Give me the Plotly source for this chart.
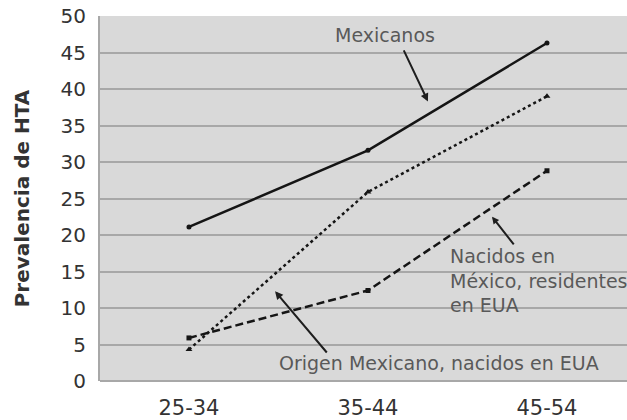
import plotly.graph_objects as go

categories = ["25-34", "35-44", "45-54"]
mexicanos = [21.1, 31.6, 46.3]
nacidos_mexico = [4.3, 25.9, 39.0]
origen_mexicano = [5.9, 12.4, 28.8]
y_ticks = [0, 5, 10, 15, 20, 25, 30, 35, 40, 45, 50]

FONT = "DejaVu Sans"
fig = go.Figure()

fig.add_trace(go.Scatter(x=categories, y=mexicanos, mode="lines+markers",
                         line=dict(color="#151515", width=2.5),
                         marker=dict(symbol="circle", size=5, color="#151515"),
                         name="Mexicanos"))
fig.add_trace(go.Scatter(x=categories, y=nacidos_mexico, mode="lines+markers",
                         line=dict(color="#151515", width=2.5, dash="dot"),
                         marker=dict(symbol="triangle-up", size=6, color="#151515"),
                         name="Nacidos en México, residentes en EUA"))
fig.add_trace(go.Scatter(x=categories, y=origen_mexicano, mode="lines+markers",
                         line=dict(color="#151515", width=2.5, dash="8px,4px"),
                         marker=dict(symbol="square", size=5, color="#151515"),
                         name="Origen Mexicano, nacidos en EUA"))

txt_color = "#595959"
arrow_color = "#1e1e1e"
annotations = [
    dict(x=1.095, y=47.4, text="Mexicanos", showarrow=False,
         font=dict(family=FONT, size=19, color=txt_color), xanchor="center", yanchor="middle"),
    dict(x=0.492, y=2.45, text="Origen Mexicano, nacidos en EUA", showarrow=False,
         font=dict(family=FONT, size=19, color=txt_color), xanchor="left", yanchor="middle"),
    dict(x=1.447, y=13.8, text="Nacidos en<br>México, residentes<br>en EUA", showarrow=False,
         align="left",
         font=dict(family=FONT, size=19, color=txt_color), xanchor="left", yanchor="middle"),
    # arrows
    dict(x=1.335, y=38.3, ax=1.196, ay=45.5, axref="x", ayref="y", text="",
         showarrow=True, arrowhead=2, arrowsize=0.8, arrowwidth=2, arrowcolor=arrow_color),
    dict(x=1.693, y=22.5, ax=1.821, ay=18.5, axref="x", ayref="y", text="",
         showarrow=True, arrowhead=2, arrowsize=0.7, arrowwidth=2, arrowcolor=arrow_color),
    dict(x=0.481, y=12.3, ax=0.777, ay=3.7, axref="x", ayref="y", text="",
         showarrow=True, arrowhead=2, arrowsize=0.8, arrowwidth=2, arrowcolor=arrow_color),
]

fig.update_layout(
    width=627, height=420,
    margin=dict(l=100, r=0, t=16, b=37),
    paper_bgcolor="white",
    plot_bgcolor="#d9d9d9",
    showlegend=False,
    annotations=annotations,
    xaxis=dict(type="category", range=[-0.497, 2.447], showgrid=False,
               showline=False, zeroline=False,
               tickfont=dict(family=FONT, size=21, color="#333333"),
               ticks="outside", ticklen=8, tickcolor="rgba(0,0,0,0)"),
    yaxis=dict(range=[0, 50], tickvals=y_ticks, showgrid=True, gridcolor="#a8a8a8",
               gridwidth=2, zeroline=True, zerolinecolor="#a8a8a8", zerolinewidth=2,
               showline=True, linecolor="#a8a8a8", linewidth=2,
               tickfont=dict(family=FONT, size=20, color="#333333"),
               ticks="outside", ticklen=8, tickcolor="rgba(0,0,0,0)",
               title=dict(text="<b>Prevalencia de HTA</b>", standoff=26,
                          font=dict(family=FONT, size=20, color="#333333"))),
)

fig.write_html("out.html", config={"displayModeBar": False},
               post_script="document.body.style.margin='0';document.body.style.overflow='hidden';")
